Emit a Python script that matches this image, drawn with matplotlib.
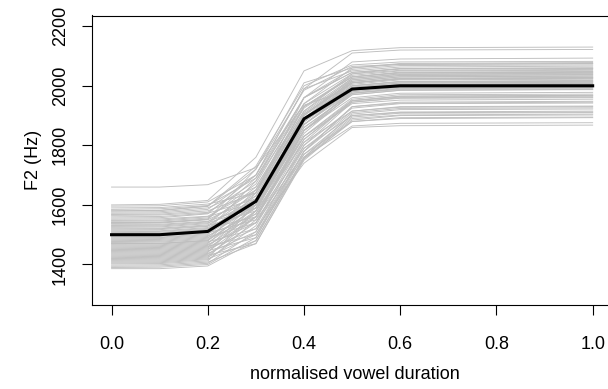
import numpy as np
import matplotlib
matplotlib.use("Agg")
import matplotlib.pyplot as plt

plt.rcParams['font.family'] = ['Liberation Sans', 'DejaVu Sans']

# sampling points along the normalised vowel
time_points = [0.0, 0.1, 0.2, 0.3, 0.4, 0.5, 0.6, 1.0]

# F2 of each grey trajectory at each time point (Hz)
f2_t00 = [1660, 1600, 1596, 1590, 1585, 1580, 1576, 1572, 1568, 1565, 1560, 1556, 1552, 1548,
          1545, 1541, 1538, 1535, 1531, 1528, 1525, 1522, 1519, 1516, 1513, 1510, 1507, 1504,
          1501, 1498, 1495, 1492, 1489, 1486, 1483, 1480, 1477, 1474, 1471, 1468, 1465, 1462,
          1459, 1456, 1453, 1450, 1447, 1444, 1441, 1438, 1435, 1432, 1429, 1426, 1423, 1420,
          1417, 1414, 1411, 1408, 1405, 1402, 1398, 1394, 1390, 1386, 1540, 1500, 1470, 1580]
f2_t01 = [1660, 1602, 1597, 1591, 1587, 1581, 1577, 1573, 1569, 1566, 1561, 1557, 1553, 1549,
          1546, 1542, 1539, 1535, 1532, 1529, 1526, 1522, 1520, 1517, 1513, 1511, 1508, 1505,
          1501, 1499, 1496, 1492, 1490, 1487, 1484, 1481, 1478, 1475, 1471, 1469, 1466, 1463,
          1460, 1457, 1454, 1451, 1448, 1445, 1442, 1439, 1436, 1433, 1430, 1427, 1424, 1421,
          1418, 1415, 1412, 1409, 1406, 1403, 1399, 1395, 1391, 1386, 1541, 1501, 1471, 1582]
f2_t02 = [1668, 1615, 1610, 1603, 1598, 1595, 1590, 1585, 1580, 1575, 1572, 1570, 1562, 1560,
          1556, 1552, 1550, 1545, 1543, 1540, 1537, 1533, 1530, 1528, 1524, 1521, 1518, 1516,
          1512, 1509, 1506, 1503, 1500, 1497, 1494, 1491, 1488, 1485, 1482, 1479, 1476, 1473,
          1470, 1467, 1464, 1461, 1458, 1455, 1452, 1449, 1446, 1443, 1440, 1437, 1434, 1431,
          1428, 1425, 1422, 1419, 1416, 1412, 1408, 1404, 1400, 1395, 1552, 1512, 1480, 1596]
f2_t03 = [1725, 1760, 1700, 1640, 1690, 1720, 1660, 1700, 1640, 1680, 1620, 1700, 1650, 1610,
          1670, 1720, 1630, 1600, 1650, 1590, 1660, 1620, 1580, 1640, 1600, 1560, 1620, 1680,
          1590, 1610, 1550, 1600, 1650, 1570, 1600, 1540, 1620, 1560, 1590, 1640, 1520, 1580,
          1610, 1540, 1570, 1500, 1600, 1560, 1520, 1580, 1490, 1560, 1600, 1510, 1540, 1470,
          1560, 1500, 1580, 1480, 1530, 1550, 1470, 1510, 1490, 1480, 1690, 1630, 1590, 1730]
f2_t04 = [1935, 2050, 1990, 1960, 1940, 1985, 1915, 1960, 1900, 1930, 1880, 1990, 1905, 1870,
          1940, 2010, 1890, 1850, 1915, 1830, 1925, 1880, 1810, 1905, 1870, 1790, 1890, 1960,
          1850, 1880, 1770, 1860, 1930, 1830, 1880, 1760, 1900, 1820, 1870, 1930, 1740, 1860,
          1900, 1800, 1850, 1755, 1890, 1830, 1790, 1870, 1770, 1850, 1890, 1780, 1820, 1750,
          1840, 1780, 1880, 1760, 1810, 1850, 1755, 1800, 1780, 1760, 1960, 1910, 1880, 2000]
f2_t05 = [1990, 2118, 2110, 2080, 2060, 2065, 2040, 2055, 2025, 2030, 1990, 2050, 2015, 1980,
          2040, 2060, 2005, 1960, 2025, 1940, 2030, 2000, 1915, 2010, 1990, 1900, 2000, 2045,
          1970, 1995, 1880, 1975, 2030, 1950, 1990, 1865, 2010, 1945, 1985, 2035, 1860, 1975,
          2015, 1925, 1970, 1880, 2010, 1955, 1915, 1995, 1900, 1980, 2020, 1910, 1950, 1885,
          1975, 1930, 2010, 1895, 1950, 1985, 1890, 1945, 1930, 1905, 2045, 2020, 2000, 2070]
f2_t06 = [1998, 2128, 2120, 2090, 2075, 2072, 2052, 2068, 2040, 2046, 2005, 2063, 2030, 1995,
          2058, 2072, 2020, 1975, 2038, 1952, 2044, 2013, 1930, 2026, 2003, 1910, 2015, 2056,
          1985, 2009, 1890, 1992, 2043, 1965, 2005, 1874, 2024, 1960, 2000, 2050, 1866, 1990,
          2030, 1940, 1985, 1893, 2022, 1970, 1928, 2010, 1912, 1995, 2034, 1924, 1962, 1900,
          1988, 1945, 2024, 1908, 1965, 1998, 1902, 1958, 1942, 1920, 2058, 2035, 2014, 2080]
f2_t10 = [2000, 2130, 2122, 2093, 2078, 2074, 2055, 2070, 2042, 2048, 2008, 2066, 2033, 1998,
          2060, 2075, 2022, 1978, 2040, 1955, 2046, 2015, 1932, 2028, 2005, 1912, 2018, 2058,
          1988, 2012, 1893, 1995, 2045, 1968, 2008, 1876, 2026, 1962, 2003, 2052, 1868, 1993,
          2032, 1942, 1987, 1895, 2025, 1972, 1930, 2012, 1915, 1998, 2036, 1926, 1965, 1902,
          1990, 1948, 2027, 1910, 1968, 2000, 1905, 1960, 1945, 1922, 2060, 2038, 2016, 2082]

# black reference trajectory
f2_mean = [1500, 1500, 1511, 1612, 1889, 1989, 2000, 2000]

x_ticks = [0.0, 0.2, 0.4, 0.6, 0.8, 1.0]
y_ticks = [1400, 1600, 1800, 2000, 2200]

tracks = np.column_stack([f2_t00, f2_t01, f2_t02, f2_t03, f2_t04, f2_t05, f2_t06, f2_t10])

fig = plt.figure(figsize=(6.08, 3.89), dpi=100)
# box runs past the right edge of the picture, as in the original
ax = fig.add_axes([92.3 / 608, 84 / 389, 525 / 608, 289.5 / 389])

for tr in tracks:
    ax.plot(time_points, tr, color="#bebebe", lw=0.65)
ax.plot(time_points, f2_mean, color="black", lw=2.2)

ax.set_xlim(-0.04, 1.0512)
ax.set_ylim(1264, 2236)
ax.set_xticks(x_ticks)
ax.set_xticklabels([f"{v:.1f}" for v in x_ticks])
ax.set_yticks(y_ticks)
ax.set_yticklabels([str(v) for v in y_ticks], rotation=90, va="center")

for s in ax.spines.values():
    s.set_linewidth(0.8)
ax.spines["right"].set_visible(False)
ax.tick_params(direction="out", length=7, width=0.8, labelsize=13)
ax.tick_params(axis="x", pad=15)
ax.tick_params(axis="y", pad=10)
ax.set_xlabel("normalised vowel duration", fontsize=13, labelpad=10)
ax.set_ylabel("F2 (Hz)", fontsize=13, labelpad=7)

fig.savefig("out.png", dpi=100)
